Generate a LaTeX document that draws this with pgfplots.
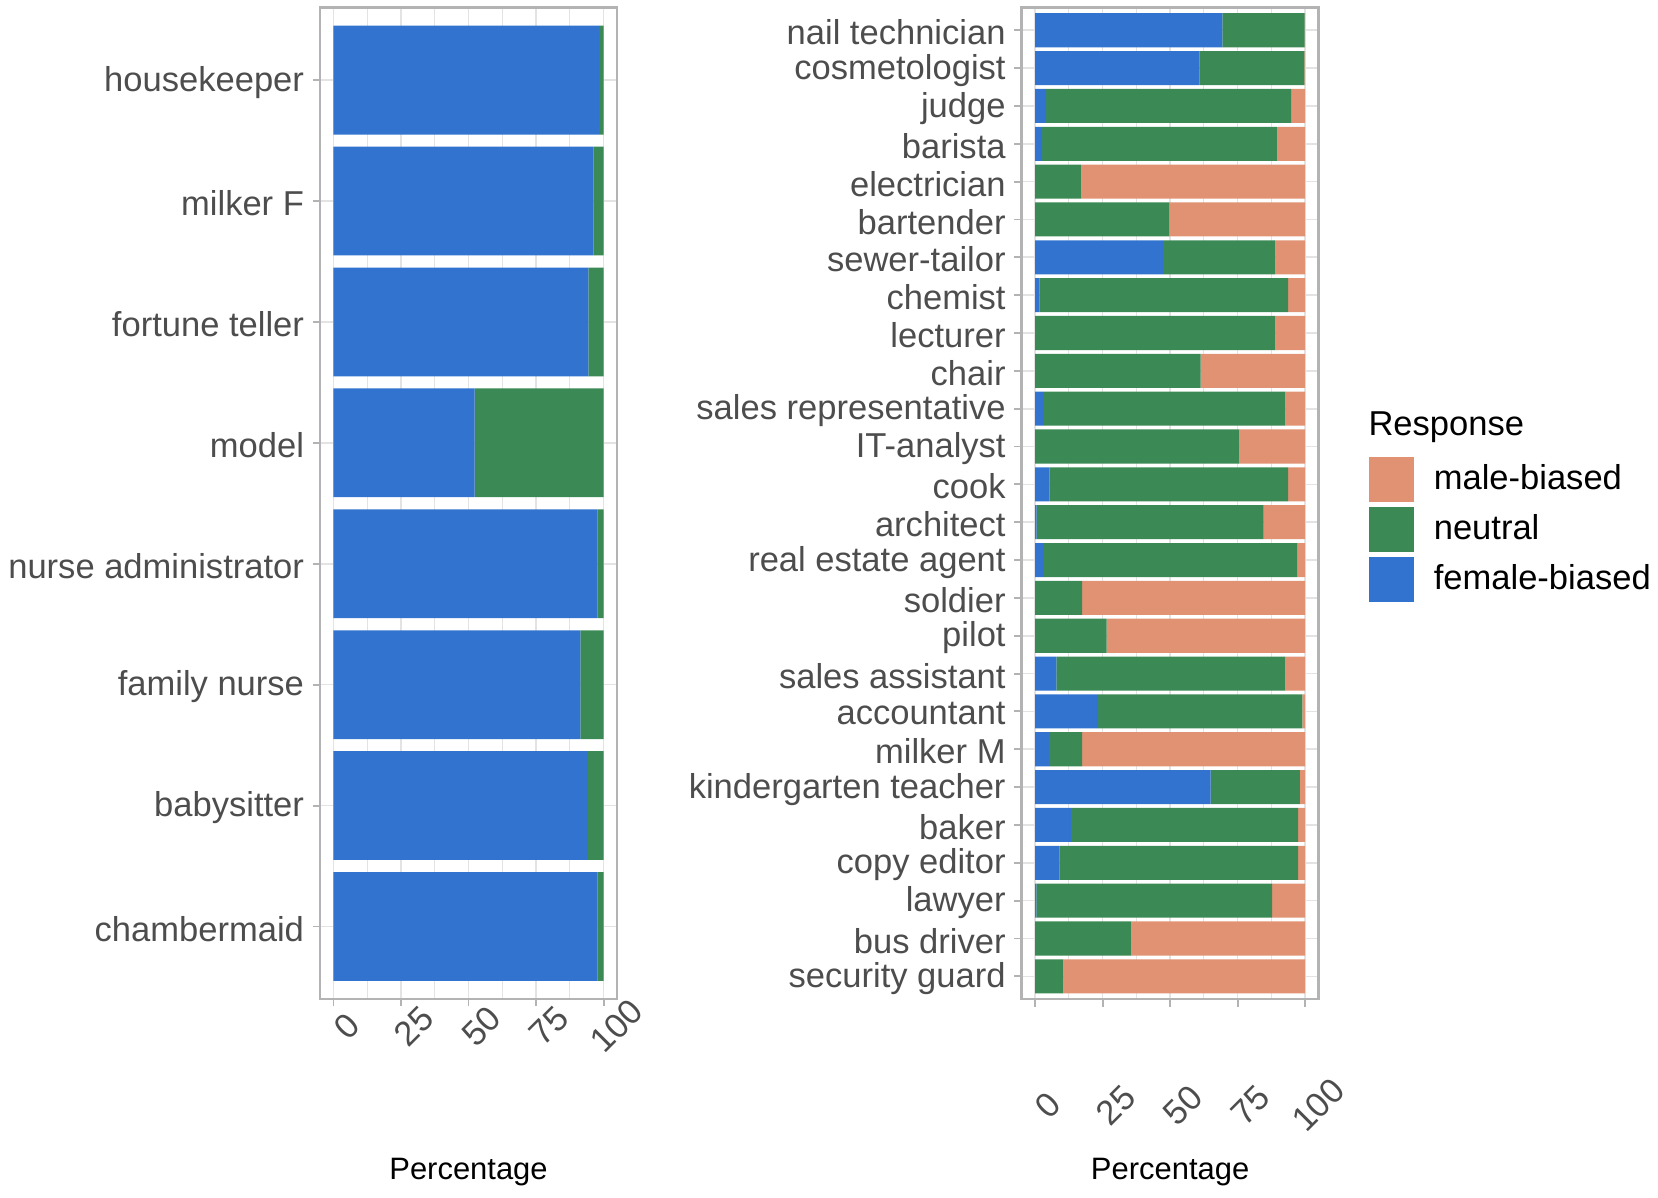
\documentclass[border=0pt]{standalone}
\usepackage{pgfplots}
\pgfplotsset{compat=1.18}
\usepackage{pgfplotstable}
\usepackage{fontspec}
\setmainfont{Liberation Sans}
\definecolor{fem}{HTML}{3173CF}
\definecolor{neu}{HTML}{3B8A55}
\definecolor{mal}{HTML}{E09273}
\definecolor{tickgrey}{HTML}{4D4D4D}
\definecolor{bordergrey}{HTML}{B3B3B3}
\definecolor{gridgrey}{HTML}{E3E3E3}

\pgfplotstableread{
idx F N
1 98.4 1.6
2 96.2 3.8
3 94.4 5.6
4 52.3 47.7
5 97.8 2.2
6 91.4 8.6
7 94.2 5.8
8 97.8 2.2
}\lefttab

\pgfplotstableread{
idx F N M
1 69.3 30.5 0.2
2 60.8 38.9 0.3
3 4.1 90.7 5.2
4 2.6 86.9 10.5
5 0 16.9 83.1
6 0 49.6 50.4
7 47.3 41.7 11.0
8 1.6 92.1 6.3
9 0 89.0 11.0
10 0 61.3 38.7
11 3.2 89.5 7.3
12 0 75.6 24.4
13 5.3 88.4 6.3
14 0.6 84.0 15.4
15 3.2 93.8 3.0
16 0 17.4 82.6
17 0 26.5 73.5
18 7.9 84.8 7.3
19 23.3 75.7 1.0
20 5.2 12.2 82.6
21 65.0 33.0 2.0
22 13.2 84.2 2.6
23 9.0 88.4 2.6
24 0.5 87.3 12.2
25 0 35.6 64.4
26 0 10.5 89.5
}\righttab

\pgfplotsset{
  panel/.style={
    scale only axis, width=107.5pt, height=358.8pt,
    xbar stacked, bar width=0.9,
    xmin=-5, xmax=105, y dir=reverse,
    clip mode=individual,
    xtick={0,25,50,75,100},
    minor xtick={12.5,37.5,62.5,87.5},
    grid=both,
    major grid style={gridgrey, line width=0.6pt},
    minor grid style={gridgrey, line width=0.4pt},
    axis line style={bordergrey, line width=1pt},
    tick align=outside, major tick length=2.7pt, minor tick length=0pt,
    tick style={bordergrey, line width=0.7pt},
    xtick pos=bottom, ytick pos=left,
    ticklabel style={font=\fontsize{12.5}{14}\selectfont, text=tickgrey},
    /pgf/number format/assume math mode=true,
    yticklabel style={anchor=east, inner sep=0pt, xshift=-2.9pt, yshift=-0.8pt},
    xlabel=Percentage,
    xlabel style={font=\fontsize{11.2}{13}\selectfont, at={(axis description cs:0.5,0)}, anchor=center, yshift=-62.6pt},
  }
}

\begin{document}
\begin{tikzpicture}
\useasboundingbox (0,0) rectangle (600pt,433.53pt);

\begin{axis}[panel,
  at={(115.8pt,72.0pt)}, anchor=south west,
  ymin=0.4, ymax=8.6,
  ytick={1,...,8},
  yticklabels={housekeeper,milker F,fortune teller,model,nurse administrator,family nurse,babysitter,chambermaid},
  xticklabel style={rotate=45, anchor=center, inner sep=0pt, xshift=-1.7pt, yshift=-8.34pt},
]
\addplot[fill=fem, draw=none] table[x=F, y=idx] \lefttab;
\addplot[fill=neu, draw=none] table[x=N, y=idx] \lefttab;
\end{axis}

\begin{axis}[panel,
  at={(369.7pt,72.0pt)}, anchor=south west,
  ymin=0.4, ymax=26.6,
  ytick={1,...,26},
  yticklabels={nail technician,cosmetologist,judge,barista,electrician,bartender,sewer-tailor,chemist,lecturer,chair,sales representative,IT-analyst,cook,architect,real estate agent,soldier,pilot,sales assistant,accountant,milker M,kindergarten teacher,baker,copy editor,lawyer,bus driver,security guard},
  xticklabel style={rotate=45, anchor=center, inner sep=0pt, xshift=-21.92pt, yshift=-28.57pt},
  reverse legend,
  legend cell align=left,
  legend image code/.code={\fill[#1] (0pt,-8.15pt) rectangle (16.3pt,8.15pt);},
  legend style={at={(axis description cs:1.169,0.5476)}, anchor=north west,
    draw=none, fill=none, inner sep=0pt, row sep=1.8pt,
    /tikz/every odd column/.append style={column sep=5pt},
    font=\fontsize{12.5}{14}\selectfont},
]
\addplot[fill=fem, draw=none] table[x=F, y=idx] \righttab;
\addlegendentry{female-biased}
\addplot[fill=neu, draw=none] table[x=N, y=idx] \righttab;
\addlegendentry{neutral}
\addplot[fill=mal, draw=none] table[x=M, y=idx] \righttab;
\addlegendentry{male-biased}
\node[anchor=base west, font=\fontsize{12.5}{14}\selectfont, inner sep=0pt] at (axis description cs:1.166,0.5688) {Response};
\end{axis}
\end{tikzpicture}
\end{document}
